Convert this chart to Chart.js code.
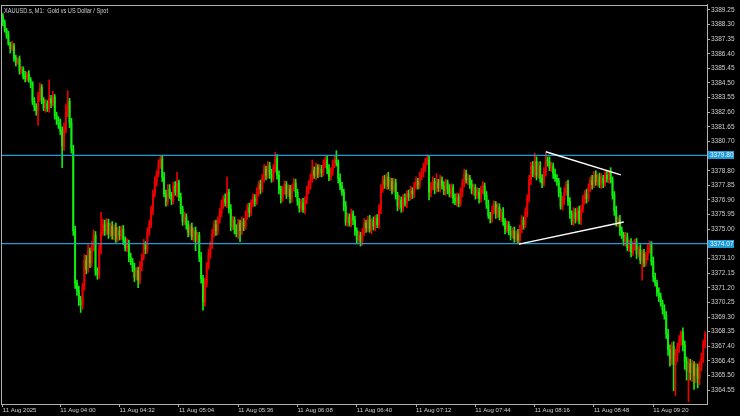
<!DOCTYPE html>
<html>
<head>
<meta charset="utf-8">
<script src="https://cdn.jsdelivr.net/npm/chart.js@4/dist/chart.umd.min.js"></script>
<style>
  html, body { margin: 0; padding: 0; background: #000; }
  #wrap { width: 740px; height: 416px; }
</style>
</head>
<body>
<div id="wrap"><canvas id="chart" width="740" height="416"></canvas></div>
<script>
// 1) Data (XAUUSD M1, 03:29 .. 09:48)
const titleText = 'XAUUSD.s, M1:  Gold vs US Dollar / Spot';
const firstOpen = 3388.85;

// close of every one-minute candle (open = previous close)
const closes = [
  3388.40,3387.95,3387.60,3387.05,3386.74,3386.90,3386.10,3385.85,3386.05,3385.26,
  3385.40,3384.95,3384.81,3385.10,3384.70,3384.49,3383.30,3382.95,3382.70,3383.60,
  3384.20,3383.40,3382.90,3383.15,3382.85,3383.50,3383.20,3383.60,3382.40,3382.10,
  3381.85,3381.40,3380.40,3381.50,3382.60,3383.30,3381.90,3380.20,3374.90,3371.50,
  3371.00,3370.40,3370.10,3371.30,3373.00,3372.40,3373.60,3372.80,3373.90,3374.60,
  3372.30,3372.05,3373.70,3374.80,3375.30,3374.90,3375.40,3374.70,3375.20,3374.60,
  3375.10,3374.40,3374.90,3374.60,3375.00,3374.30,3373.80,3374.10,3373.20,3372.90,
  3372.50,3371.90,3372.30,3371.70,3372.60,3373.20,3374.00,3373.70,3374.80,3375.30,
  3376.20,3377.30,3378.10,3378.60,3379.20,3379.55,3378.40,3377.30,3376.80,3377.60,
  3377.20,3376.90,3377.80,3377.40,3378.00,3377.10,3376.30,3375.50,3375.80,3375.30,
  3374.80,3375.10,3374.50,3374.90,3374.30,3374.60,3373.20,3371.80,3370.30,3371.50,
  3372.60,3373.40,3374.00,3374.70,3375.30,3374.90,3375.60,3376.10,3376.60,3377.00,
  3376.70,3377.40,3376.30,3375.20,3375.60,3375.00,3374.70,3375.40,3374.90,3375.50,
  3375.20,3375.90,3376.40,3376.10,3376.70,3377.00,3376.80,3377.40,3377.90,3377.60,
  3378.30,3378.90,3378.50,3379.10,3378.60,3378.30,3379.00,3379.60,3378.50,3377.60,
  3377.00,3377.50,3377.90,3377.30,3377.60,3377.00,3377.70,3378.00,3377.40,3376.80,
  3376.40,3376.70,3376.30,3376.90,3377.50,3377.90,3378.30,3378.80,3378.50,3379.00,
  3378.60,3378.90,3378.70,3379.20,3379.50,3378.90,3378.40,3378.80,3379.20,3379.50,
  3379.30,3378.30,3377.80,3377.40,3376.50,3375.50,3375.80,3375.40,3376.00,3375.60,
  3374.90,3374.30,3374.60,3374.20,3374.80,3375.40,3375.10,3375.60,3375.00,3375.50,
  3375.20,3375.70,3375.30,3376.30,3377.60,3378.20,3377.90,3378.40,3377.80,3378.10,
  3377.60,3378.00,3377.20,3376.50,3376.90,3376.40,3377.00,3376.70,3377.30,3377.10,
  3377.50,3377.30,3377.80,3378.10,3377.90,3378.40,3378.70,3379.00,3379.40,3379.50,
  3377.40,3377.80,3378.10,3377.60,3378.00,3377.70,3378.20,3377.80,3377.50,3378.00,
  3377.60,3377.30,3377.70,3377.00,3376.80,3377.10,3376.70,3377.40,3378.00,3378.60,
  3378.20,3378.30,3377.90,3377.50,3377.70,3377.20,3377.40,3377.00,3377.60,3377.80,
  3377.20,3376.60,3375.90,3375.70,3376.20,3376.60,3376.00,3376.40,3375.80,3376.10,
  3375.50,3375.00,3375.30,3374.90,3374.60,3374.90,3374.40,3374.70,3374.30,3375.00,
  3375.60,3375.30,3376.10,3377.00,3378.20,3379.10,3378.60,3379.40,3378.50,3379.10,
  3378.30,3378.00,3378.70,3379.50,3379.40,3379.00,3379.10,3378.60,3378.30,3378.10,
  3377.40,3376.50,3376.90,3377.40,3377.90,3376.80,3376.00,3375.50,3376.10,3375.70,
  3376.20,3375.60,3376.30,3376.90,3377.30,3377.00,3377.70,3378.20,3377.90,3378.50,
  3378.10,3378.40,3377.90,3378.30,3378.00,3378.50,3378.30,3378.70,3378.20,3377.20,
  3376.20,3375.40,3375.60,3374.90,3374.60,3374.20,3374.50,3373.80,3374.10,3373.50,
  3373.90,3374.10,3373.40,3373.70,3373.00,3373.40,3372.80,3373.30,3373.70,3374.00,
  3372.90,3371.90,3371.50,3370.90,3370.60,3370.20,3369.80,3369.40,3368.20,3367.20,
  3366.60,3367.40,3366.20,3366.80,3367.30,3367.80,3368.30,3367.50,3366.40,3365.80,
  3366.30,3365.70,3366.20,3365.50,3366.00,3365.30,3366.10,3366.70,3367.60,3368.20
];

// wick above the body / below the body, per candle
const upWick = [
  .15,.2,.1,.25,.1,.3,.15,.2,.1,.2,   .2,.15,.3,.1,.2,.15,.1,.25,.2,.3,
  .3,.2,.15,.3,.2,1.2,.2,.35,.15,.2,  .2,.3,.25,.4,.5,.7,.2,.3,.25,.3,
  .2,.3,.25,.2,.35,.3,.4,.2,.3,.35,   .25,.2,.3,1.3,.35,.3,.3,.25,.2,.3,
  .2,.3,.25,.3,.2,.25,.2,.3,.2,.25,   .2,.3,.2,.25,.3,.2,.35,.2,.3,.3,
  .3,.25,.3,.2,.3,.25,.2,.3,.25,.3,   .3,.2,.25,.3,.7,.2,.25,.2,.3,.2,
  .25,.2,.3,.2,.25,.2,.2,.3,.2,.3,    .25,.3,.2,.3,.25,.3,.2,.25,.3,.2,
  .3,1.0,.2,.3,.25,.2,.3,.25,.2,.3,   .2,.3,.25,.3,.2,.3,.25,.3,.2,.3,
  .25,.3,.2,.3,.25,.3,.2,.4,.25,.3,   .2,.3,.25,.2,.3,.25,.2,.3,.25,.2,
  .2,.25,.3,.2,.3,.25,.3,.7,.25,.3,   .2,.3,.25,.3,.2,.25,.3,.2,.3,.25,
  .6,.2,.3,.25,.2,.3,.25,.2,.3,.2,    .25,.2,.3,.2,.25,.3,.2,.25,.3,.2,
  .3,.2,.25,.3,.3,.25,.3,.2,.3,.25,   .2,.3,.25,.2,.3,.2,.25,.3,.2,.25,
  .3,.2,.25,.3,.2,.3,.25,.3,.2,.35,   .3,.25,.3,.2,.6,.25,.3,.2,.3,.25,
  .2,.3,.25,.2,.3,.25,.2,.3,.25,.3,   .25,.3,.2,.3,.25,.2,.3,.25,.2,.3,
  .2,.25,.3,.2,.3,.25,.2,.3,.25,.2,   .3,.2,.25,.2,.3,.2,.25,.2,.3,.25,
  .3,.2,.3,.25,.3,.25,.3,.55,.3,.25,  .3,.25,.3,.45,.2,.3,.25,.2,.3,.25,
  .2,.3,.25,.3,.2,.3,.25,.2,.3,.25,   .2,.3,.25,.3,.2,.3,.25,.2,.3,.25,
  .3,.2,.25,.3,.2,.25,.3,.1,.3,.2,    .25,.3,.2,.3,.25,.2,.3,.25,.2,.3,
  .3,.25,.3,.2,.3,.25,.3,.2,.3,.25,   .2,.3,.25,.2,.3,.25,.2,.3,.25,.3,
  .3,.25,.3,.4,.3,.3,.1,.3,.25,.3,    .3,.25,.3,.2,.3,.25,.3,.25,.2,.15
];
const downWick = [
  .2,.15,.2,.1,.3,.15,.2,.25,.15,.2,  .15,.2,.25,.2,.15,.3,.2,.25,.3,.95,
  .3,.25,.2,.3,.2,.25,.3,.2,.25,.3,   .3,.25,1.4,.3,.25,.3,.3,.25,.3,.35,
  .3,.35,.5,.3,.25,.3,.2,.3,.25,.3,   .3,.3,.25,.3,.2,.3,.25,.3,.2,.25,
  .3,.25,.2,.3,.25,.3,.2,.25,.3,.2,   .25,.3,.2,.5,.25,.3,.2,.3,.25,.2,
  .2,.25,.2,.3,.2,.25,.3,.2,.3,.25,   .2,.3,.25,.2,.3,.25,.3,.25,.2,.3,
  .3,.25,.2,.3,.7,.25,.3,.3,.55,.3,   .25,.2,.3,.25,.2,.3,.25,.2,.3,.25,
  .2,.3,.25,.3,.25,.3,.2,.3,.7,.25,   .3,.2,.25,.3,.2,.25,.3,.2,.25,.3,
  .2,.25,.3,.2,.3,.25,.2,.3,.25,.3,   .3,.2,.25,.3,.2,.3,.25,.2,.3,.25,
  .3,.25,.2,.3,.25,.2,.3,.25,.2,.3,   .25,.2,.3,.25,.2,.3,.25,.2,.3,.2,
  .2,.3,.25,.2,.3,.25,.3,.2,.25,.3,   .3,.25,.2,.3,.25,.2,.3,.25,.2,.3,
  .25,.3,.2,.25,.3,.2,.25,.3,.2,.3,   .3,.2,.25,.3,.2,.3,.25,.2,.3,.25,
  .2,.3,.25,.2,.3,.25,.2,.3,.25,.2,   .5,.3,.25,.3,.2,.25,.3,.2,.25,.3,
  .3,.2,.25,.3,.2,.3,.25,.2,.3,.25,   .2,.3,.25,.2,.3,.25,.2,.3,.25,.3,
  .3,.25,.2,.3,.25,.2,.3,.25,.2,.3,   .25,.3,.2,.25,.3,.2,.25,.2,.25,.3,
  .25,.3,.2,.3,.25,.3,.2,.25,.3,.2,   .25,.3,.2,.25,.3,.2,.25,.3,.2,.25,
  .3,.2,.25,.3,.2,.25,.3,.2,.25,.3,   .2,.25,.3,.2,.25,.3,.2,.25,.3,.2,
  .25,.3,.2,.25,.3,.2,.25,.3,.2,.25,  .3,.2,.25,.3,.2,.25,.3,.2,.25,.3,
  .2,.25,.3,.2,.25,1.3,.25,.2,.3,.25, .25,.3,.2,.25,.3,.2,.3,.25,.3,.4,
  .5,.4,1.7,2.0,.4,.3,.35,.4,.5,.6,   2.0,.5,.6,.9,.5,.6,.4,.3,.35,.3
];

// time axis: candle index of each label
const timeTicks = [0, 31, 63, 95, 127, 159, 191, 223, 255, 287, 319, 351];
const timeLabels = ['11 Aug 2025', '11 Aug 04:00', '11 Aug 04:32', '11 Aug 05:04',
  '11 Aug 05:36', '11 Aug 06:08', '11 Aug 06:40', '11 Aug 07:12', '11 Aug 07:44',
  '11 Aug 08:16', '11 Aug 08:48', '11 Aug 09:20'];

// price axis
const priceTicks = [3389.25, 3388.30, 3387.35, 3386.40, 3385.45, 3384.50, 3383.55,
  3382.60, 3381.65, 3380.70, 3378.80, 3377.85, 3376.90, 3375.95, 3375.00,
  3373.10, 3372.15, 3371.20, 3370.25, 3369.30, 3368.35, 3367.40, 3366.45,
  3365.50, 3364.55];
const priceMin = 3363.65;
const priceMax = 3389.57;

// horizontal levels and the triangle lines
const levels = [3379.80, 3374.07];
const upperTrendX = [293.0, 333.5];
const upperTrendY = [3380.03, 3378.53];
const lowerTrendX = [278.6, 335.1];
const lowerTrendY = [3374.03, 3375.47];

// 2) Build candles
const UP = '#ee0000';
const DOWN = '#10ee10';
const LEVEL = '#1e9ad6';
const FRAME = '#b0b0b0';
const TEXT = '#d0d0d0';

const opens = closes.map((c, i) => (i === 0 ? firstOpen : closes[i - 1]));
const highs = closes.map((c, i) => Math.max(opens[i], c) + upWick[i]);
const lows = closes.map((c, i) => Math.min(opens[i], c) - downWick[i]);
const colors = closes.map((c, i) => (c >= opens[i] ? UP : DOWN));

const wickData = closes.map((c, i) => ({ x: i, y: [lows[i], highs[i]] }));
const bodyData = closes.map((c, i) => ({ x: i, y: [opens[i], c] }));

const xMin = -1;
const xMax = closes.length;

// 3) Plugin: background, frame, title, level price boxes
const mtDecor = {
  id: 'mtDecor',
  beforeDraw(chart) {
    const ctx = chart.ctx;
    ctx.save();
    ctx.fillStyle = '#000';
    ctx.fillRect(0, 0, chart.width, chart.height);
    ctx.restore();
  },
  afterDraw(chart) {
    const ctx = chart.ctx;
    const a = chart.chartArea;
    const ys = chart.scales.y;
    ctx.save();
    ctx.strokeStyle = FRAME;
    ctx.lineWidth = 1;
    ctx.strokeRect(Math.round(a.left) + 0.5, Math.round(a.top) + 0.5,
      Math.round(a.right - a.left), Math.round(a.bottom - a.top));

    ctx.fillStyle = TEXT;
    ctx.font = '6.5px "Liberation Sans", Arial, sans-serif';
    ctx.textBaseline = 'middle';
    ctx.textAlign = 'left';
    ctx.fillText(titleText, a.left + 3, a.top + 6, 104);

    levels.forEach(lv => {
      const y = Math.round(ys.getPixelForValue(lv));
      ctx.fillStyle = LEVEL;
      ctx.fillRect(a.right + 1, y - 4, 26, 8);
      ctx.fillStyle = '#e8f6ff';
      ctx.fillText(lv.toFixed(2), a.right + 3, y + 0.5);
    });
    ctx.restore();
  }
};

// 4) Chart
new Chart(document.getElementById('chart').getContext('2d'), {
  type: 'bar',
  data: {
    datasets: [
      {
        label: 'wicks',
        data: wickData,
        backgroundColor: colors,
        barThickness: 1,
        grouped: false,
        order: 3
      },
      {
        label: 'bodies',
        data: bodyData,
        backgroundColor: colors,
        barThickness: 1.25,
        minBarLength: 1,
        grouped: false,
        order: 2
      },
      ...levels.map(lv => ({
        type: 'line',
        label: 'level ' + lv,
        data: [{ x: xMin, y: lv }, { x: xMax, y: lv }],
        borderColor: LEVEL,
        borderWidth: 1.3,
        pointRadius: 0,
        order: 1
      })),
      {
        type: 'line',
        label: 'upper',
        data: upperTrendX.map((x, i) => ({ x: x, y: upperTrendY[i] })),
        borderColor: '#ffffff',
        borderWidth: 1.4,
        pointRadius: 0,
        order: 0
      },
      {
        type: 'line',
        label: 'lower',
        data: lowerTrendX.map((x, i) => ({ x: x, y: lowerTrendY[i] })),
        borderColor: '#ffffff',
        borderWidth: 1.4,
        pointRadius: 0,
        order: 0
      }
    ]
  },
  options: {
    responsive: false,
    animation: false,
    devicePixelRatio: 1,
    layout: { padding: { left: 1, top: 1, right: 0, bottom: 0 } },
    plugins: {
      legend: { display: false },
      tooltip: { enabled: false },
      title: { display: false }
    },
    scales: {
      x: {
        type: 'linear',
        position: 'bottom',
        min: xMin,
        max: xMax,
        offset: false,
        grid: { offset: false, drawOnChartArea: false, drawTicks: true, tickLength: 3, color: FRAME },
        border: { color: FRAME },
        afterBuildTicks: axis => { axis.ticks = timeTicks.map(v => ({ value: v })); },
        afterFit: axis => { axis.height = 12; },
        ticks: {
          autoSkip: false,
          maxRotation: 0,
          align: 'start',
          padding: 0,
          color: TEXT,
          font: { family: '"Liberation Sans", sans-serif', size: 6 },
          callback: v => timeLabels[timeTicks.indexOf(v)]
        }
      },
      y: {
        type: 'linear',
        position: 'right',
        min: priceMin,
        max: priceMax,
        grid: { drawOnChartArea: false, drawTicks: true, tickLength: 3, color: FRAME },
        border: { color: FRAME },
        afterBuildTicks: axis => { axis.ticks = priceTicks.map(v => ({ value: v })); },
        afterFit: axis => { axis.width = 33; },
        ticks: {
          padding: 1,
          color: TEXT,
          font: { family: '"Liberation Sans", Arial, sans-serif', size: 6.5 },
          callback: v => v.toFixed(2)
        }
      }
    }
  },
  plugins: [mtDecor]
});
</script>
</body>
</html>
